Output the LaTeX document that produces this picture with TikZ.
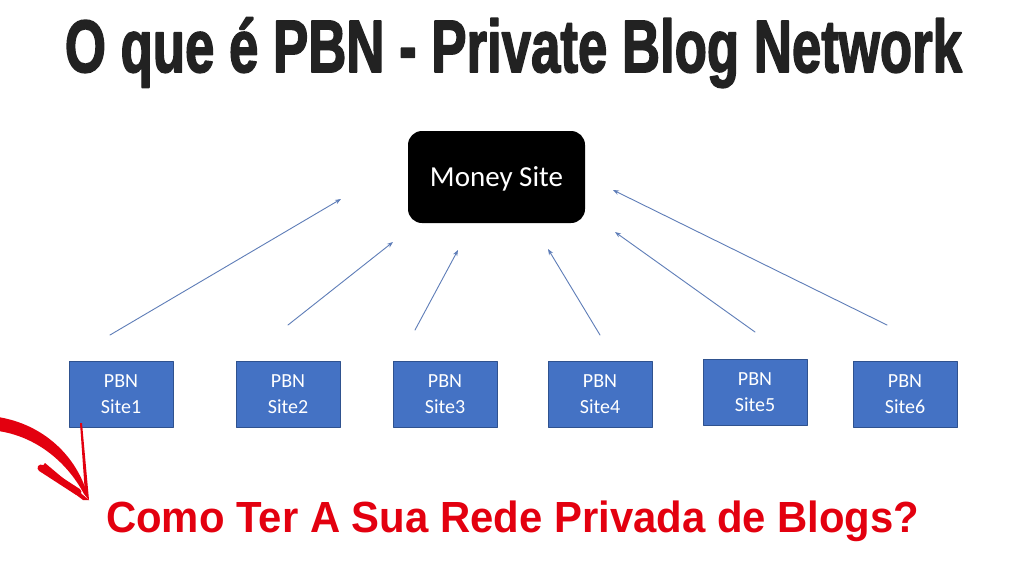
\documentclass[tikz,border=0pt]{standalone}
\usepackage{fontspec}
\setmainfont{Carlito}
\newfontfamily\titlefont[BoldFeatures={FakeBold=2.5}]{Liberation Sans}
\newfontfamily\callfont{Liberation Sans}
\usetikzlibrary{arrows.meta}
\definecolor{pbnblue}{HTML}{4472C4}
\definecolor{pbnedge}{HTML}{2F528F}
\definecolor{arrowblue}{HTML}{5E7DB8}
\definecolor{titlegray}{HTML}{222222}
\definecolor{callred}{HTML}{E3000F}
% cap-height box, so that \resizebox scales the capitals exactly
\newcommand{\capbox}[1]{\raisebox{0pt}[\fontcharht\font`H][0pt]{#1}}
\begin{document}
\begin{tikzpicture}[x=1pt, y=-1pt, line join=round, line cap=round,
	site/.style={draw=pbnedge, fill=pbnblue, text=white, minimum width=104pt, minimum height=66pt, align=center, font=\fontsize{20}{26}\selectfont, inner sep=0pt},
	link/.style={draw=arrowblue, line width=0.9pt, -{Stealth[length=6pt, width=4.5pt]}}]
	\useasboundingbox[fill=white] (0,0) rectangle (1024,576);
	% title
	\node[anchor=base, text=titlegray, inner sep=0pt] (title) at (513.5,72) {\resizebox{897pt}{51pt}{\titlefont\bfseries\capbox{O que é PBN - Private Blog Network}}};
	% money site
	\node[fill=black, rounded corners=14pt, minimum width=177pt, minimum height=92pt, text=white, font=\fontsize{29}{32}\selectfont, text depth=0pt, inner sep=0pt] (money) at (496.5,177) {Money Site};
	% pbn sites
	\node[site] (s1) at (121,394) {PBN\\Site1};
	\node[site] (s2) at (288,394) {PBN\\Site2};
	\node[site] (s3) at (445,394) {PBN\\Site3};
	\node[site] (s4) at (600,394) {PBN\\Site4};
	\node[site] (s5) at (755,392) {PBN\\Site5};
	\node[site] (s6) at (905,394) {PBN\\Site6};
	% loose arrow ends
	\coordinate (a1) at (110,335); \coordinate (b1) at (341,199);
	\coordinate (a2) at (288,325); \coordinate (b2) at (393,242);
	\coordinate (a3) at (415,330); \coordinate (b3) at (458,250);
	\coordinate (a4) at (600,335); \coordinate (b4) at (548,249);
	\coordinate (a5) at (755,332); \coordinate (b5) at (615,232);
	\coordinate (a6) at (887,325); \coordinate (b6) at (613,190);
	\foreach \i in {1,...,6}
		\draw[link] (a\i) -- (b\i);
	% red hand-drawn arrow
	\coordinate (tip) at (89,500);
	\coordinate (w1) at (41,468);
	\coordinate (w2) at (80,423);
	\fill[callred] (-2,417) .. controls (42,424) and (78,455) .. (tip) -- (84,494) .. controls (66,460) and (34,436) .. (-2,431) -- cycle;
	\fill[callred] (w1) -- (45,463) -- (tip) -- (83,500) -- cycle;
	\draw[callred, line width=7pt] (w1) -- (78,492);
	\fill[callred] (w2) -- (82,423) -- (tip) -- (85,494) -- cycle;
	% call to action
	\node[anchor=base west, text=callred, inner sep=0pt] (call) at (106,532) {\resizebox{813pt}{30pt}{\callfont\bfseries\capbox{Como Ter A Sua Rede Privada de Blogs?}}};
\end{tikzpicture}
\end{document}
